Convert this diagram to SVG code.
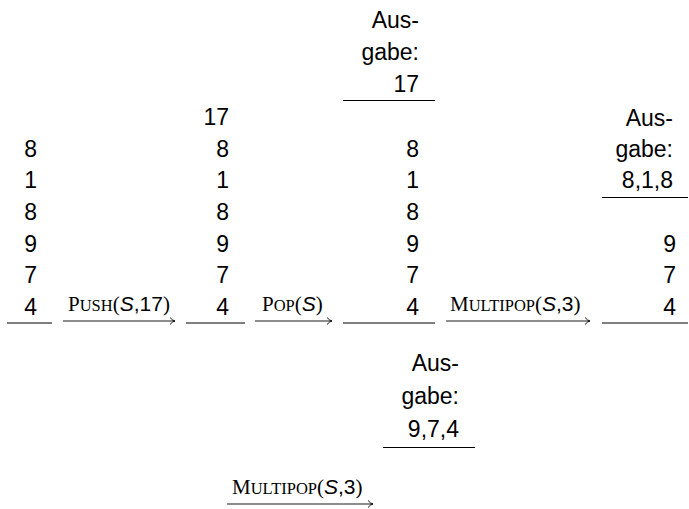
<svg xmlns="http://www.w3.org/2000/svg" width="689" height="509" viewBox="0 0 689 509">
<style>
.n{font-family:"Liberation Sans",Arial,sans-serif;font-size:23px;fill:#000;text-anchor:end}
.base{stroke:#000;stroke-width:1.2;fill:none}
.out{stroke:#000;stroke-width:1;fill:none}
.lbl{font-family:"Liberation Serif","Times New Roman",serif;font-size:21px;fill:#000}
.sc{font-size:16.5px}
.var{font-family:"Liberation Sans",Arial,sans-serif;font-style:italic}
.num{font-family:"Liberation Sans",Arial,sans-serif}
.arr{stroke:#000;stroke-width:0.9;fill:none}
</style>
<rect width="689" height="509" fill="#fff"/>
<g id="stack1">
  <text class="n" x="37" y="157">8</text>
  <text class="n" x="37" y="188">1</text>
  <text class="n" x="37" y="220">8</text>
  <text class="n" x="37" y="252">9</text>
  <text class="n" x="37" y="283">7</text>
  <text class="n" x="37" y="315">4</text>
  <line class="base" x1="7" y1="323" x2="52" y2="323"/>
</g>
<g id="stack2">
  <text class="n" x="229" y="125">17</text>
  <text class="n" x="229" y="157">8</text>
  <text class="n" x="229" y="188">1</text>
  <text class="n" x="229" y="220">8</text>
  <text class="n" x="229" y="252">9</text>
  <text class="n" x="229" y="283">7</text>
  <text class="n" x="229" y="315">4</text>
  <line class="base" x1="186" y1="323" x2="245" y2="323"/>
</g>
<g id="output1">
  <text class="n" x="419" y="28">Aus-</text>
  <text class="n" x="419" y="60">gabe:</text>
  <text class="n" x="419" y="92">17</text>
  <line class="out" x1="343" y1="100.5" x2="435" y2="100.5"/>
</g>
<g id="stack3">
  <text class="n" x="419" y="157">8</text>
  <text class="n" x="419" y="188">1</text>
  <text class="n" x="419" y="220">8</text>
  <text class="n" x="419" y="252">9</text>
  <text class="n" x="419" y="283">7</text>
  <text class="n" x="419" y="315">4</text>
  <line class="base" x1="343" y1="323" x2="435" y2="323"/>
</g>
<g id="output2">
  <text class="n" x="673" y="126">Aus-</text>
  <text class="n" x="673" y="157">gabe:</text>
  <text class="n" x="673" y="188">8,1,8</text>
  <line class="out" x1="602" y1="197.5" x2="688" y2="197.5"/>
</g>
<g id="stack4">
  <text class="n" x="676" y="252">9</text>
  <text class="n" x="676" y="283">7</text>
  <text class="n" x="676" y="315">4</text>
  <line class="base" x1="602" y1="323" x2="688" y2="323"/>
</g>
<g id="output3">
  <text class="n" x="459" y="371">Aus-</text>
  <text class="n" x="459" y="404">gabe:</text>
  <text class="n" x="459" y="437">9,7,4</text>
  <line class="out" x1="383" y1="447.5" x2="475" y2="447.5"/>
</g>
<g id="connectors">
  <line class="arr" x1="63" y1="321" x2="175" y2="321"/>
  <path class="arr" d="M170,317.5 Q172.5,320.5 175,321 Q172.5,321.5 170,324.5"/>
  <text class="lbl" x="68" y="311">P<tspan class="sc">USH</tspan>(<tspan class="var">S</tspan><tspan class="num">,17</tspan>)</text>

  <line class="arr" x1="255" y1="321" x2="332" y2="321"/>
  <path class="arr" d="M327,317.5 Q329.5,320.5 332,321 Q329.5,321.5 327,324.5"/>
  <text class="lbl" x="262" y="311">P<tspan class="sc">OP</tspan>(<tspan class="var">S</tspan>)</text>

  <line class="arr" x1="446" y1="321" x2="590" y2="321"/>
  <path class="arr" d="M585,317.5 Q587.5,320.5 590,321 Q587.5,321.5 585,324.5"/>
  <text class="lbl" x="450" y="311">M<tspan class="sc">ULTIPOP</tspan>(<tspan class="var">S</tspan><tspan class="num">,3</tspan>)</text>

  <line class="arr" x1="227" y1="504" x2="373" y2="504"/>
  <path class="arr" d="M368,500.5 Q370.5,503.5 373,504 Q370.5,504.5 368,507.5"/>
  <text class="lbl" x="232" y="494">M<tspan class="sc">ULTIPOP</tspan>(<tspan class="var">S</tspan><tspan class="num">,3</tspan>)</text>
</g>
</svg>
